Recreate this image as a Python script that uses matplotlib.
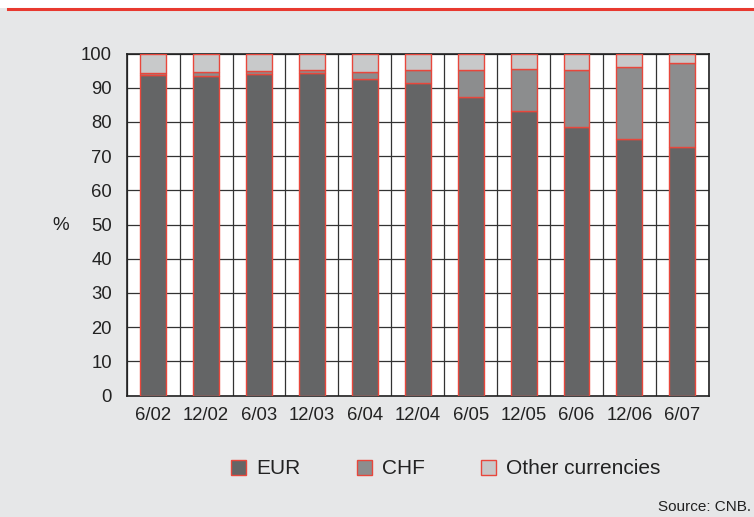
import matplotlib
matplotlib.use("Agg")
import matplotlib.pyplot as plt
import numpy as np
from matplotlib.lines import Line2D
from matplotlib.patches import Rectangle

periods = ["6/02", "12/02", "6/03", "12/03", "6/04", "12/04",
           "6/05", "12/05", "6/06", "12/06", "6/07"]
eur = [93.7, 93.4, 94.0, 94.2, 92.5, 91.3, 87.4, 83.1, 78.6, 74.9, 72.7]
chf = [0.5, 1.1, 0.8, 0.9, 2.1, 4.0, 7.8, 12.3, 16.6, 21.1, 24.5]
other = [100 - e - c for e, c in zip(eur, chf)]

series_names = ["EUR", "CHF", "Other currencies"]
colors = ["#646566", "#8c8d8e", "#c8c9ca"]
edge = "#e8473c"
bg = "#e6e7e8"

plt.rcParams["font.family"] = ["Liberation Sans", "DejaVu Sans"]

fig = plt.figure(figsize=(7.54, 5.17), dpi=100, facecolor=bg)
ax = fig.add_axes([0.168, 0.235, 0.772, 0.6615])
ax.set_facecolor("white")

# white strip and red rule at the top
fig.patches.append(Rectangle((0, 0.984), 1, 0.016, transform=fig.transFigure,
                             facecolor="white", edgecolor="none", zorder=0))
fig.lines.append(Line2D([0.01, 1], [0.983, 0.983], transform=fig.transFigure,
                        color="#e8392f", lw=2.2))

x = np.arange(len(periods))
bottom = np.zeros(len(periods))
for vals, name, col in zip([eur, chf, other], series_names, colors):
    ax.bar(x, vals, width=0.49, bottom=bottom, color=col, edgecolor=edge,
           linewidth=1.0, label=name, zorder=3)
    bottom += np.array(vals)

ax.set_xlim(-0.5, len(periods) - 0.5)
ax.set_ylim(0, 100)
ax.set_yticks(range(0, 101, 10))
ax.set_xticks(x)
ax.set_xticklabels(periods)
ax.set_xticks(np.arange(-0.5, len(periods), 1), minor=True)
ax.grid(axis="y", which="major", color="#333333", lw=0.9, zorder=1)
ax.grid(axis="x", which="minor", color="#333333", lw=0.9, zorder=1)
ax.tick_params(axis="both", which="both", length=0, labelsize=13.3, colors="#222222")
ax.tick_params(axis="y", pad=10.5)
ax.tick_params(axis="x", pad=8)
for s in ax.spines.values():
    s.set_color("#222222")
    s.set_linewidth(1.2)

fig.text(0.08, 0.563, "%", fontsize=13.5, color="#222222", ha="center", va="center")

fig.legend(loc="center", bbox_to_anchor=(0.5915, 0.093), ncol=3, frameon=False,
           fontsize=15, handlelength=0.72, handleheight=0.72, columnspacing=2.7,
           handletextpad=0.48, labelcolor="#222222")

fig.text(0.996, 0.019, "Source: CNB.", fontsize=11, color="#222222", ha="right", va="center")

fig.savefig("out.png", dpi=100, facecolor=bg)
